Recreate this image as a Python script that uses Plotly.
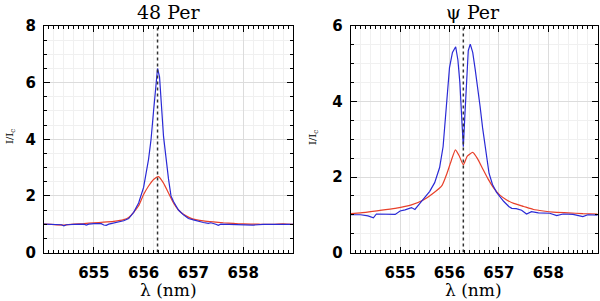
import plotly.graph_objects as go

# ---------------- data ----------------
HALPHA = 656.28

LAM_48_BLUE = [654.0, 654.2, 654.35, 654.4, 654.45, 654.6, 654.8, 654.85, 654.9, 655.0, 655.15, 655.2,
               655.25, 655.3, 655.4, 655.5, 655.6, 655.7, 655.8, 655.9, 656.0, 656.1, 656.15, 656.2,
               656.25, 656.28, 656.32, 656.4, 656.5, 656.55, 656.6, 656.7, 656.8, 656.9, 657.0, 657.1,
               657.2, 657.3, 657.35, 657.45, 657.5, 657.55, 657.7, 657.9, 658.0, 658.2, 658.4, 658.6,
               658.8, 659.0]
I_48_BLUE = [1.00, 1.00, 0.98, 0.94, 0.98, 0.99, 1.00, 0.97, 1.00, 1.02, 1.02, 0.97,
             0.96, 1.00, 1.04, 1.07, 1.12, 1.20, 1.42, 1.75, 2.30, 3.30, 4.00, 5.00,
             6.10, 6.50, 6.20, 4.10, 2.60, 2.00, 1.80, 1.50, 1.33, 1.20, 1.15, 1.10,
             1.06, 1.03, 1.05, 1.00, 0.96, 1.00, 0.99, 0.98, 0.99, 0.97, 0.99, 0.98,
             0.99, 0.99]

LAM_48_RED = [654.0, 654.4, 654.6, 654.8, 655.0, 655.2, 655.4, 655.6, 655.7, 655.8, 655.9, 656.0,
              656.1, 656.2, 656.3, 656.4, 656.5, 656.6, 656.7, 656.8, 656.9, 657.0, 657.2, 657.4,
              657.6, 657.8, 658.0, 658.3, 658.6, 658.8, 659.0]
I_48_RED = [1.00, 0.97, 1.00, 1.02, 1.05, 1.07, 1.10, 1.16, 1.24, 1.42, 1.65, 2.05,
            2.35, 2.58, 2.68, 2.45, 2.10, 1.75, 1.50, 1.35, 1.25, 1.18, 1.12, 1.08,
            1.05, 1.03, 1.01, 1.00, 0.99, 1.01, 0.99]

LAM_PSI_BLUE = [654.0, 654.2, 654.35, 654.46, 654.52, 654.7, 654.9, 655.0, 655.1, 655.23, 655.3, 655.4,
                655.5, 655.6, 655.7, 655.8, 655.87, 655.94, 656.0, 656.06, 656.125, 656.17, 656.21,
                656.25, 656.28, 656.31, 656.35, 656.38, 656.42, 656.47, 656.52, 656.57, 656.62,
                656.67, 656.72, 656.8, 656.87, 656.95, 657.02, 657.1, 657.2, 657.26, 657.35, 657.46,
                657.56, 657.66, 657.8, 658.03, 658.17, 658.3, 658.5, 658.7, 658.8, 659.0]
I_PSI_BLUE = [1.00, 1.00, 0.97, 0.92, 1.02, 1.02, 1.01, 1.10, 1.13, 1.19, 1.14, 1.30,
              1.45, 1.62, 1.85, 2.25, 2.80, 4.00, 4.90, 5.30, 5.45, 5.10, 4.50,
              3.50, 2.80, 3.60, 4.80, 5.35, 5.52, 5.30, 4.85, 4.40, 3.86,
              3.30, 2.80, 2.10, 1.80, 1.60, 1.48, 1.35, 1.22, 1.17, 1.16, 1.12,
              1.02, 1.08, 1.05, 1.04, 0.98, 1.02, 1.01, 0.95, 1.00, 0.99]

LAM_PSI_RED = [654.0, 654.2, 654.56, 654.9, 655.23, 655.47, 655.65, 655.85, 655.95, 656.04, 656.12,
               656.2, 656.28, 656.36, 656.47, 656.56, 656.68, 656.78, 656.9, 657.02, 657.15, 657.3,
               657.5, 657.7, 657.9, 658.1, 658.4, 658.7, 659.0]
I_PSI_RED = [1.03, 1.05, 1.11, 1.17, 1.26, 1.39, 1.55, 1.78, 2.10, 2.45, 2.72,
             2.55, 2.32, 2.55, 2.65, 2.50, 2.20, 1.95, 1.70, 1.52, 1.40, 1.30,
             1.22, 1.14, 1.10, 1.07, 1.05, 1.03, 1.02]

X_RANGE = [654.0, 659.0]
X_TICKS = [655, 656, 657, 658]
Y_RANGE_48 = [0, 8]
Y_RANGE_PSI = [0, 6]

# ---------------- style ----------------
BLUE = "#2a2ad6"
RED = "#e8402a"
GRID_MAJOR = "#dcdcdc"
GRID_MINOR = "#f0f0f0"
TICKFONT = dict(family="DejaVu Sans", size=15, color="black", weight="bold")
SERIF = "DejaVu Serif"

fig = go.Figure()

fig.add_trace(go.Scatter(x=LAM_48_RED, y=I_48_RED, mode="lines",
                         line=dict(color=RED, width=1.2, shape="spline", smoothing=0.5),
                         xaxis="x", yaxis="y", showlegend=False))
fig.add_trace(go.Scatter(x=LAM_48_BLUE, y=I_48_BLUE, mode="lines", line=dict(color=BLUE, width=1.2),
                         xaxis="x", yaxis="y", showlegend=False))
fig.add_trace(go.Scatter(x=LAM_PSI_RED, y=I_PSI_RED, mode="lines",
                         line=dict(color=RED, width=1.2, shape="spline", smoothing=0.5),
                         xaxis="x2", yaxis="y2", showlegend=False))
fig.add_trace(go.Scatter(x=LAM_PSI_BLUE, y=I_PSI_BLUE, mode="lines", line=dict(color=BLUE, width=1.2),
                         xaxis="x2", yaxis="y2", showlegend=False))

fig.add_trace(go.Scatter(x=[HALPHA, HALPHA], y=Y_RANGE_48, mode="lines",
                         line=dict(color="#333333", width=1.5, dash="dot"),
                         xaxis="x3", yaxis="y", showlegend=False))
fig.add_trace(go.Scatter(x=[HALPHA, HALPHA], y=Y_RANGE_PSI, mode="lines",
                         line=dict(color="#333333", width=1.5, dash="dot"),
                         xaxis="x4", yaxis="y2", showlegend=False))

Y0 = 1 - 252.5 / 301
Y1 = 1 - 26 / 301
DOM1 = [44 / 600, 293 / 600]
DOM2 = [350.7 / 600, 597.7 / 600]


def grid_x(domain, anchor):
    return dict(domain=domain, anchor=anchor, range=X_RANGE, showgrid=True, gridcolor=GRID_MAJOR,
                gridwidth=1, dtick=1, tick0=654, showticklabels=False, ticks="", showline=False,
                zeroline=False,
                minor=dict(dtick=0.2, tick0=654, showgrid=True, gridcolor=GRID_MINOR, ticks=""))


def tick_x(overlay, anchor):
    return dict(overlaying=overlay, anchor=anchor, range=X_RANGE, showgrid=False, zeroline=False,
                tickmode="array", tickvals=X_TICKS, ticks="inside", ticklen=6, tickwidth=1,
                tickcolor="black", tickfont=TICKFONT, ticklabelstandoff=6,
                showline=True, linecolor="black", linewidth=1, mirror="ticks",
                minor=dict(dtick=0.1, tick0=654, ticks="inside", ticklen=3, tickcolor="black",
                           showgrid=False))


def y_axis(domain, anchor, rng):
    return dict(domain=domain, anchor=anchor, range=rng, dtick=2, tick0=0, showgrid=True,
                gridcolor=GRID_MAJOR, zeroline=False, ticks="inside", ticklen=6, tickcolor="black",
                tickfont=TICKFONT, ticklabelstandoff=4, showline=True, linecolor="black",
                linewidth=1, mirror="ticks",
                minor=dict(dtick=0.5, tick0=0, ticks="inside", ticklen=3, tickcolor="black",
                           showgrid=True, gridcolor=GRID_MINOR))


fig.update_layout(
    width=600, height=301,
    margin=dict(l=0, r=0, t=0, b=0, pad=0, autoexpand=False),
    paper_bgcolor="white", plot_bgcolor="white",
    xaxis=grid_x(DOM1, "y"),
    xaxis2=grid_x(DOM2, "y2"),
    xaxis3=tick_x("x", "y"),
    xaxis4=tick_x("x2", "y2"),
    yaxis=y_axis([Y0, Y1], "x", Y_RANGE_48),
    yaxis2=y_axis([Y0, Y1], "x2", Y_RANGE_PSI),
)

ann = []
for cx, title in [(168 / 600, "48 Per"), (473 / 600, "ψ Per")]:
    ann.append(dict(x=cx, y=1 - 12 / 301, xref="paper", yref="paper", text=title, showarrow=False,
                    font=dict(family=SERIF, size=19, color="black"), xanchor="center", yanchor="middle"))
    ann.append(dict(x=cx, y=1 - 290 / 301, xref="paper", yref="paper", text="λ (nm)", showarrow=False,
                    font=dict(family=SERIF, size=17, color="black"), xanchor="center", yanchor="middle"))
for lx in [10 / 600, 313 / 600]:
    ann.append(dict(x=lx, y=1 - 137 / 301, xref="paper", yref="paper", text="I/I<sub>c</sub>",
                    showarrow=False, textangle=-90,
                    font=dict(family=SERIF, size=10, color="black"), xanchor="center", yanchor="middle"))
fig.update_layout(annotations=ann)

fig.write_html("out.html", config={"displayModeBar": False},
               post_script="document.body.style.margin='0';document.body.style.overflow='hidden';")
